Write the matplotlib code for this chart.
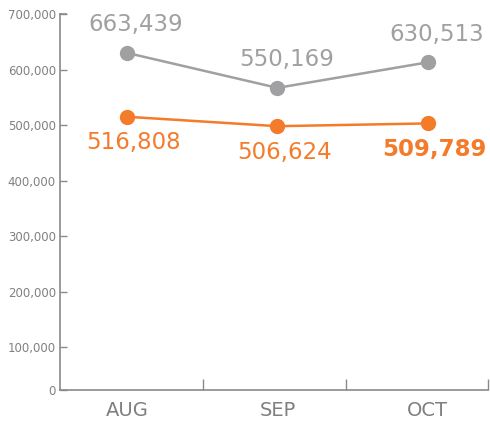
import matplotlib
matplotlib.use("Agg")
import matplotlib.pyplot as plt
from matplotlib.ticker import FixedLocator

# values as drawn on the chart (label text kept separately, as printed)
months = ["AUG", "SEP", "OCT"]
gray_vals = [630000, 567000, 613000]
gray_labels = ["663,439", "550,169", "630,513"]
orange_vals = [515000, 498000, 503000]
orange_labels = ["516,808", "506,624", "509,789"]
ytick_vals = [100000, 200000, 300000, 400000, 500000, 600000, 700000]
ytick_labels = ["100,000", "200,000", "300,000", "400,000", "500,000", "600,000", "700,000"]

GRAY = "#a0a0a3"
ORANGE = "#f47b2a"
AXIS = "#8a8a8a"
TICKTXT = "#808080"

fig = plt.figure(figsize=(4.9, 4.22), dpi=100)
ax = fig.add_axes([60 / 490, 1 - 390 / 422, 428 / 490, 376 / 422])

x = list(range(len(months)))
ax.plot(x, gray_vals, color=GRAY, lw=1.8, marker="o", ms=10, zorder=3)
ax.plot(x, orange_vals, color=ORANGE, lw=1.8, marker="o", ms=10, zorder=3)

px = 0.72  # points per pixel
for i, lab in enumerate(gray_labels):
    ax.annotate(lab, (x[i], gray_vals[i]), xytext=(9 * px, 28 * px),
                textcoords="offset points", ha="center", va="center",
                fontsize=16.5, color=GRAY)
for i, lab in enumerate(orange_labels):
    ax.annotate(lab, (x[i], orange_vals[i]), xytext=(7 * px, -26 * px),
                textcoords="offset points", ha="center", va="center",
                fontsize=16.5, color=ORANGE,
                fontweight="bold" if i == len(orange_labels) - 1 else "normal")

# axis bottom sits below 100,000 on a truncated scale, labelled 0
ybottom = 23000
ax.set_ylim(ybottom, 700000)
ax.set_yticks([ybottom] + ytick_vals)
ax.set_yticklabels(["0"] + ytick_labels)
ax.tick_params(axis="y", direction="in", length=5, width=1, color=AXIS,
               labelcolor=TICKTXT, labelsize=8.5, pad=3)

ax.set_xlim(-0.445, 2.4)
ax.set_xticks(x)
ax.set_xticklabels(months)
ax.xaxis.set_minor_locator(FixedLocator([0.505, 1.455, 2.4]))
ax.tick_params(axis="x", which="major", length=0, labelsize=14,
               labelcolor="#7f7f7f", pad=8)
ax.tick_params(axis="x", which="minor", direction="in", length=8,
               width=1, color=AXIS)

for s in ["top", "right"]:
    ax.spines[s].set_visible(False)
for s in ["left", "bottom"]:
    ax.spines[s].set_color(AXIS)
    ax.spines[s].set_linewidth(1.2)

# tiny cap at top of the y axis
ax.plot([-0.445, -0.445 + 6 / 150.5], [700000, 700000], color=AXIS, lw=1.2,
        clip_on=False)

fig.savefig("out.png", dpi=100)
